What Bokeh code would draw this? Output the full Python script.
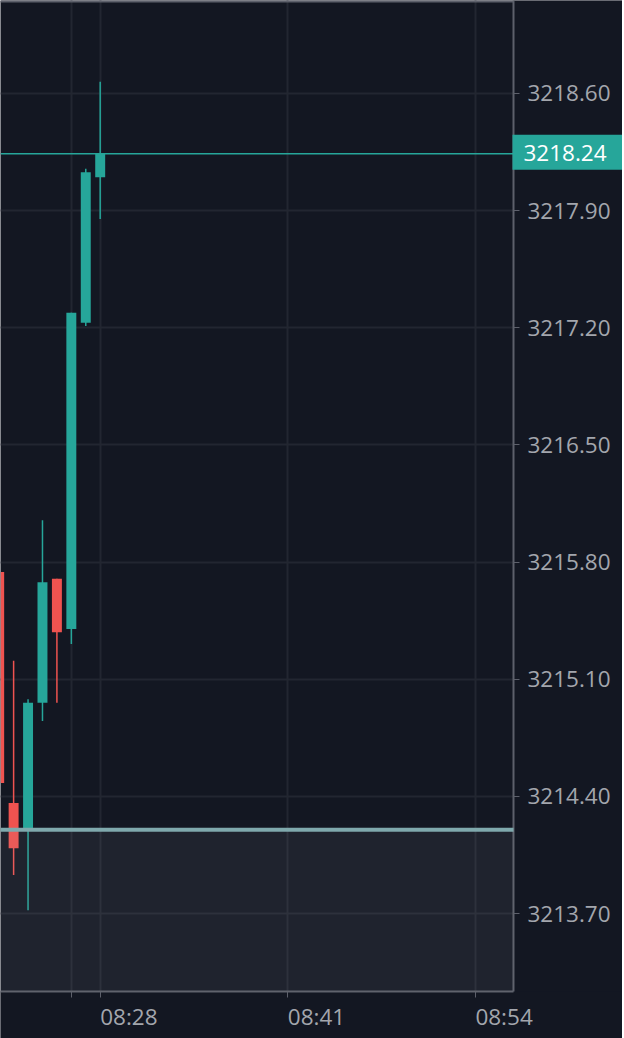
import numpy as np
import pandas as pd
from bokeh.plotting import figure
from bokeh.core.properties import value
from bokeh.models import (FixedTicker, PrintfTickFormatter, Span, BoxAnnotation,
                          Label, LabelSet, ColumnDataSource)
from bokeh.embed import file_html
from bokeh.resources import INLINE

# ---- data (1-minute candles) ----
times = ["08:21", "08:22", "08:23", "08:24", "08:25", "08:26", "08:27", "08:28"]
opens = [3215.74, 3214.36, 3214.20, 3214.96, 3215.70, 3215.40, 3217.23, 3218.10]
highs = [3215.80, 3215.21, 3214.98, 3216.05, 3215.70, 3217.29, 3218.15, 3218.67]
lows = [3214.40, 3213.93, 3213.72, 3214.85, 3214.96, 3215.31, 3217.21, 3217.85]
closes = [3214.48, 3214.09, 3214.96, 3215.68, 3215.38, 3217.29, 3218.13, 3218.24]

price_ticks = [3213.70, 3214.40, 3215.10, 3215.80, 3216.50, 3217.20, 3217.90, 3218.60]
time_ticks = ["08:26", "08:28", "08:41", "08:54"]
time_tick_labels = ["", "08:28", "08:41", "08:54"]

last_price = 3218.24
baseline_price = 3214.20

# ---- canvas geometry ----
W, H = 622, 1038
PLOT_W, PLOT_H = 513, 991            # price pane (left/top part of canvas)
PX_PER_MIN = 14.43
PX_PER_PT = 167.35

x_start = 21.091                      # minutes after 08:00 at left edge
x_end = x_start + W / PX_PER_MIN
x_edge = x_start + PLOT_W / PX_PER_MIN
y_hi = 3219.1557
y_lo = y_hi - H / PX_PER_PT
y_floor = y_hi - PLOT_H / PX_PER_PT

# ---- colours / styles ----
BG = "#131722"
UP = "#26a69a"
DOWN = "#ef5350"
GRID = "#222631"
AXIS = "#5d606b"
TEXT = "#a3a6ad"
FONT = "Open Sans"
FSIZE = "22.5px"


def to_min(s):
    h, m = s.split(":")
    return (int(h) - 8) * 60 + int(m)


df = pd.DataFrame(dict(t=[to_min(s) for s in times], open=opens, high=highs,
                       low=lows, close=closes))
df["top"] = df[["open", "close"]].max(axis=1)
df["bottom"] = df[["open", "close"]].min(axis=1)
df["color"] = np.where(df["close"] >= df["open"], UP, DOWN)
src = ColumnDataSource(df)

p = figure(width=W, height=H, x_range=(x_start, x_end), y_range=(y_lo, y_hi),
           y_axis_location="right", output_backend="svg", toolbar_location=None,
           min_border=0)
p.background_fill_color = BG
p.border_fill_color = BG
p.outline_line_color = None

# ---- axes (fixed at the pane edges) ----
tick_vals = [to_min(s) for s in time_ticks]
xa = p.xaxis[0]
xa.fixed_location = y_floor
xa.bounds = (x_start, x_edge)
xa.ticker = FixedTicker(ticks=tick_vals)
xa.major_label_overrides = {v: "" for v in tick_vals}
xa.minor_tick_line_color = None
xa.axis_line_color = AXIS
xa.axis_line_width = 2
xa.major_tick_line_color = AXIS
xa.major_tick_out = 6
xa.major_tick_in = 0

ya = p.yaxis[0]
ya.fixed_location = x_edge
ya.bounds = (y_floor, y_hi)
ya.ticker = FixedTicker(ticks=price_ticks)
ya.formatter = PrintfTickFormatter(format="%.2f")
ya.minor_tick_line_color = None
ya.axis_line_color = AXIS
ya.axis_line_width = 2
ya.major_tick_line_color = AXIS
ya.major_tick_out = 6
ya.major_tick_in = 0
ya.major_label_standoff = 8
ya.major_label_text_font = FONT
ya.major_label_text_font_size = FSIZE
ya.major_label_text_color = TEXT

p.xgrid.ticker = FixedTicker(ticks=tick_vals)
p.xgrid.grid_line_color = GRID
p.xgrid.grid_line_width = 2
p.ygrid.grid_line_color = GRID
p.ygrid.grid_line_width = 2

# cover the scale areas so grid lines stop at the pane edges
p.add_layout(BoxAnnotation(left=x_edge, fill_color=BG, fill_alpha=1, line_color=None,
                           level="glyph"))
p.add_layout(BoxAnnotation(top=y_floor, fill_color=BG, fill_alpha=1, line_color=None,
                           level="glyph"))

# ---- candles ----
p.segment(x0="t", x1="t", y0="low", y1="high", color="color", line_width=1.5, source=src)
p.vbar(x="t", width=0.69, top="top", bottom="bottom", fill_color="color",
       line_color=None, source=src)

# shaded zone below baseline + baseline line
p.add_layout(BoxAnnotation(top=baseline_price, bottom=y_floor, right=x_edge,
                           fill_color="#b2b5be", fill_alpha=0.08, line_color=None))
p.segment(x0=[x_start], x1=[x_edge], y0=[baseline_price], y1=[baseline_price],
          line_color="#7fa9ad", line_width=4, level="overlay")

# top border of the pane
p.add_layout(BoxAnnotation(bottom=y_hi - 2 / PX_PER_PT, right=x_edge, fill_color=AXIS,
                           fill_alpha=1, line_color=None))

# last price line + label box
p.add_layout(Span(location=last_price, dimension="width", line_color=UP, line_width=1.5))
p.add_layout(BoxAnnotation(left=x_edge - 1 / PX_PER_MIN,
                           top=last_price + 19 / PX_PER_PT,
                           bottom=last_price - 16 / PX_PER_PT,
                           fill_color=UP, fill_alpha=1, line_color=None))
p.add_layout(Label(x=x_edge, y=last_price, x_offset=10, y_offset=1,
                   text=f"{last_price:.2f}",
                   text_align="left", text_baseline="middle", text_color="white",
                   text_font=FONT, text_font_size=FSIZE))

# time labels (left-aligned at their ticks)
lab_src = ColumnDataSource(dict(x=[to_min(s) for s, l in zip(time_ticks, time_tick_labels) if l],
                                text=[l for l in time_tick_labels if l]))
p.add_layout(LabelSet(x="x", y=22, y_units="screen", text="text", source=lab_src,
                      text_align="left", text_baseline="middle",
                      text_color=value(TEXT),
                      text_font=value(FONT), text_font_size=value(FSIZE)))

open("out.html", "w").write(file_html(p, INLINE))
